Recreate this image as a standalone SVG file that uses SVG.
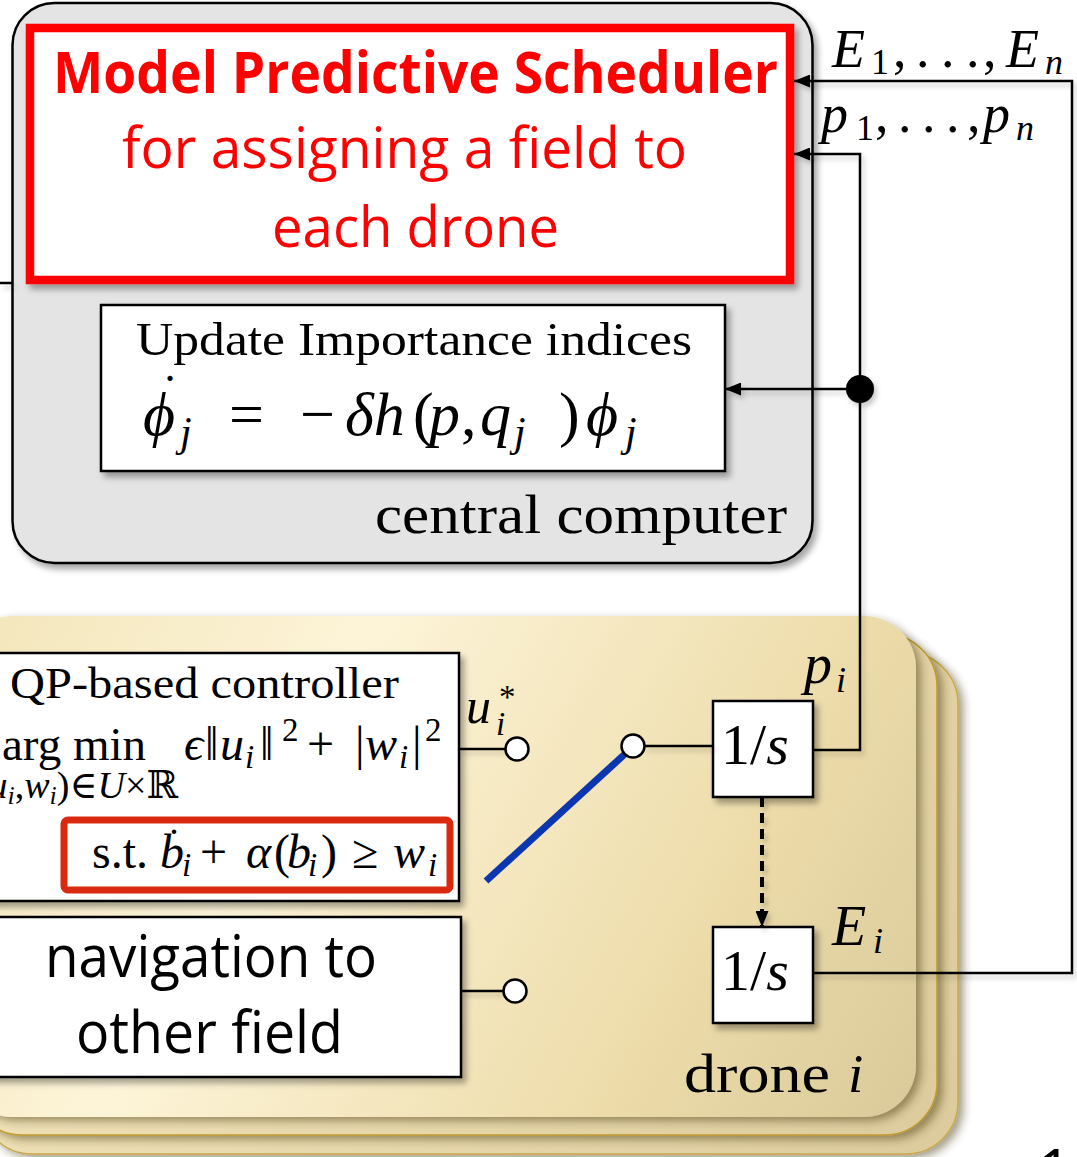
<svg xmlns="http://www.w3.org/2000/svg" width="1077" height="1157" viewBox="0 0 1077 1157">
<defs>
  <style>
    .cm{font-family:"Liberation Serif","DejaVu Serif",serif;fill:#000}
    .it{font-style:italic}
    .sans{font-family:"Open Sans","Noto Sans","Liberation Sans",sans-serif}
    .box{fill:#fff;stroke:#000;stroke-width:2.5}
    .wire{fill:none;stroke:#000;stroke-width:2.5}
    .port{fill:#fff;stroke:#000;stroke-width:2.5}
  </style>
  <marker id="arr" markerUnits="userSpaceOnUse" markerWidth="16" markerHeight="13" refX="16" refY="6.5" orient="auto">
    <path d="M0,0 L16,6.5 L0,13 z" fill="#000"/>
  </marker>
  <filter id="sh" x="-10%" y="-10%" width="130%" height="130%">
    <feDropShadow dx="4" dy="5" stdDeviation="3" flood-color="#000" flood-opacity="0.35"/>
  </filter>
  <filter id="shl" x="-5%" y="-5%" width="120%" height="120%">
    <feDropShadow dx="3" dy="4" stdDeviation="2.5" flood-color="#000" flood-opacity="0.2"/>
  </filter>
  <filter id="card" x="-10%" y="-10%" width="125%" height="125%">
    <feDropShadow dx="5" dy="4" stdDeviation="4" flood-color="#3a2c00" flood-opacity="0.45"/>
  </filter>
  <linearGradient id="beige" gradientUnits="userSpaceOnUse" x1="0" y1="616" x2="958" y2="1154">
    <stop offset="0" stop-color="#f4e7bd"/>
    <stop offset="0.3" stop-color="#fdf4d8"/>
    <stop offset="0.7" stop-color="#eddcaa"/>
    <stop offset="1" stop-color="#d6c596"/>
  </linearGradient>
  <linearGradient id="beige2" gradientUnits="userSpaceOnUse" x1="0" y1="616" x2="958" y2="1154">
    <stop offset="0" stop-color="#f3e6bc"/>
    <stop offset="1" stop-color="#dccb9c"/>
  </linearGradient>
</defs>

<!-- central computer -->
<g id="central-computer">
  <rect x="12.5" y="3" width="800" height="560" rx="42" fill="#e4e4e4" stroke="#000" stroke-width="2.5" filter="url(#sh)"/>
  <text class="cm" x="375" y="533" font-size="54" textLength="412" lengthAdjust="spacingAndGlyphs">central computer</text>
</g>

<g id="scheduler">
  <rect x="30" y="28" width="760" height="252" fill="#fff" stroke="#ff0000" stroke-width="8.5" filter="url(#sh)"/>
  <text class="sans" x="53" y="93" font-size="58" font-weight="bold" fill="#ff0000" textLength="725" lengthAdjust="spacingAndGlyphs">Model Predictive Scheduler</text>
  <text class="sans" x="122" y="168" font-size="56" fill="#ff0000" textLength="565" lengthAdjust="spacingAndGlyphs">for assigning a field to</text>
  <text class="sans" x="272" y="247" font-size="56" fill="#ff0000" textLength="287" lengthAdjust="spacingAndGlyphs">each drone</text>
</g>

<g id="update-importance">
  <rect class="box" x="101" y="305" width="624" height="166" filter="url(#sh)"/>
  <text class="cm" x="136" y="355" font-size="47" textLength="556" lengthAdjust="spacingAndGlyphs">Update Importance indices</text>
  <text class="cm" x="170" y="381" font-size="44" text-anchor="middle">.</text>
  <text class="cm" font-size="62" y="435"><tspan class="it" x="143">ϕ</tspan><tspan class="it" x="180" y="446" font-size="42">j</tspan><tspan x="229" y="435">=</tspan><tspan x="300">−</tspan><tspan class="it" x="345">δh</tspan><tspan x="413">(</tspan><tspan class="it" x="429">p</tspan><tspan x="461">,</tspan><tspan class="it" x="480">q</tspan><tspan class="it" x="514" y="446" font-size="42">j</tspan><tspan x="559" y="435">)</tspan><tspan class="it" x="586">ϕ</tspan><tspan class="it" x="625" y="446" font-size="42">j</tspan></text>
</g>

<!-- drone stack -->
<g id="drone-stack">
  <rect x="-20" y="652" width="978" height="502" rx="52" fill="url(#beige2)" stroke="#c9a84c" stroke-width="1.5" filter="url(#card)"/>
  <rect x="-30" y="634" width="967" height="501" rx="52" fill="url(#beige2)" stroke="#c09a30" stroke-width="1.5" filter="url(#card)"/>
  <rect x="-40" y="616" width="956" height="501" rx="52" fill="url(#beige)" filter="url(#card)"/>
  <text class="cm" x="684" y="1092" font-size="55" textLength="146" lengthAdjust="spacingAndGlyphs">drone</text>
  <text class="cm it" x="848" y="1092" font-size="55">i</text>
</g>

<g id="qp-controller">
  <rect class="box" x="-10" y="653" width="469" height="248" filter="url(#sh)"/>
  <text class="cm" x="10" y="698" font-size="45" textLength="389" lengthAdjust="spacingAndGlyphs">QP-based controller</text>
  <text class="cm" x="2" y="760" font-size="47" textLength="144" lengthAdjust="spacingAndGlyphs">arg min</text>
  <text class="cm" font-size="48" y="760"><tspan class="it" x="184">ϵ</tspan><tspan x="205">‖</tspan><tspan class="it" x="220">u</tspan><tspan class="it" x="245" y="768" font-size="33">i</tspan><tspan x="260" y="760">‖</tspan><tspan x="282" y="741" font-size="33">2</tspan><tspan x="307" y="760">+</tspan><tspan x="355">|</tspan><tspan class="it" x="365">w</tspan><tspan class="it" x="399" y="768" font-size="33">i</tspan><tspan x="412" y="760">|</tspan><tspan x="425" y="741" font-size="33">2</tspan></text>
  <text class="cm" font-size="38" y="798" text-anchor="end"><tspan x="178">(<tspan class="it">u</tspan><tspan class="it" font-size="26" dy="6">i</tspan><tspan dy="-6">,</tspan><tspan class="it">w</tspan><tspan class="it" font-size="26" dy="6">i</tspan><tspan dy="-6">)∈</tspan><tspan class="it">U</tspan>×ℝ</tspan></text>
  <rect x="64" y="820" width="386" height="70" rx="4" fill="#fff" stroke="#d92a10" stroke-width="7"/>
  <text class="cm" x="174" y="834" font-size="38" text-anchor="middle">.</text>
  <text class="cm" font-size="48" y="868"><tspan x="92">s.t.</tspan><tspan class="it" x="160">b</tspan><tspan class="it" x="182" y="876" font-size="33">i</tspan><tspan x="200" y="868">+</tspan><tspan class="it" x="246">α</tspan><tspan x="274">(</tspan><tspan class="it" x="287">b</tspan><tspan class="it" x="308" y="876" font-size="33">i</tspan><tspan x="321" y="868">)</tspan><tspan x="352">≥</tspan><tspan class="it" x="393">w</tspan><tspan class="it" x="428" y="876" font-size="33">i</tspan></text>
</g>

<g id="navigation">
  <rect class="box" x="-10" y="917" width="471" height="160" filter="url(#sh)"/>
  <text class="sans" x="45" y="977" font-size="58" fill="#000" textLength="332" lengthAdjust="spacingAndGlyphs">navigation to</text>
  <text class="sans" x="76" y="1053" font-size="58" fill="#000" textLength="267" lengthAdjust="spacingAndGlyphs">other field</text>
</g>

<g id="integrator-p">
  <rect class="box" x="713" y="701" width="100" height="96" filter="url(#sh)"/>
  <text class="cm" x="721" y="764" font-size="58">1/<tspan class="it">s</tspan></text>
</g>

<g id="integrator-E">
  <rect class="box" x="713" y="927" width="100" height="96" filter="url(#sh)"/>
  <text class="cm" x="721" y="990" font-size="58">1/<tspan class="it">s</tspan></text>
</g>

<!-- connectors -->
<g id="connectors">
  <g filter="url(#shl)">
    <path class="wire" d="M813,973 H1072 V81 H794" marker-end="url(#arr)"/>
    <path class="wire" d="M813,750 H860 V154 H794" marker-end="url(#arr)"/>
    <path class="wire" d="M860,389 H725" marker-end="url(#arr)"/>
    <path class="wire" d="M459,749 H505"/>
    <path class="wire" d="M461,991 H503"/>
    <path class="wire" d="M644,746 H713"/>
    <path class="wire" d="M0,283 H12"/>
    <path d="M762,797 V927" fill="none" stroke="#000" stroke-width="4" stroke-dasharray="10,6" marker-end="url(#arr)"/>
    <circle cx="860" cy="389" r="14" fill="#000"/>
  </g>
  <line x1="486" y1="881" x2="626" y2="753" stroke="#0a36b0" stroke-width="7"/>
  <circle class="port" cx="517" cy="749" r="11.5"/>
  <circle class="port" cx="633" cy="746" r="11.5"/>
  <circle class="port" cx="515" cy="991" r="11.5"/>
</g>

<!-- signal labels -->
<g id="labels">
  <text class="cm" font-size="54" y="67"><tspan class="it" x="832">E</tspan><tspan x="871" y="74" font-size="36">1</tspan><tspan x="893" y="67">,</tspan><tspan x="916">.</tspan><tspan x="941">.</tspan><tspan x="966">.</tspan><tspan x="983">,</tspan><tspan class="it" x="1006">E</tspan><tspan class="it" x="1045" y="74" font-size="36">n</tspan></text>
  <text class="cm" font-size="54" y="132"><tspan class="it" x="821">p</tspan><tspan x="856" y="140" font-size="36">1</tspan><tspan x="875" y="132">,</tspan><tspan x="898">.</tspan><tspan x="922">.</tspan><tspan x="946">.</tspan><tspan x="967">,</tspan><tspan class="it" x="983">p</tspan><tspan class="it" x="1016" y="140" font-size="36">n</tspan></text>
  <text class="cm" font-size="56" y="683"><tspan class="it" x="804">p</tspan><tspan class="it" x="836" y="692" font-size="36">i</tspan></text>
  <text class="cm" font-size="56" y="945"><tspan class="it" x="832">E</tspan><tspan class="it" x="873" y="953" font-size="36">i</tspan></text>
  <text class="cm" font-size="50" y="723"><tspan class="it" x="466">u</tspan><tspan class="it" x="496" y="735" font-size="33">i</tspan><tspan x="499" y="708" font-size="33">*</tspan></text>
</g>

<text class="sans" x="1036" y="1195" font-size="64" fill="#000">14</text>
</svg>
